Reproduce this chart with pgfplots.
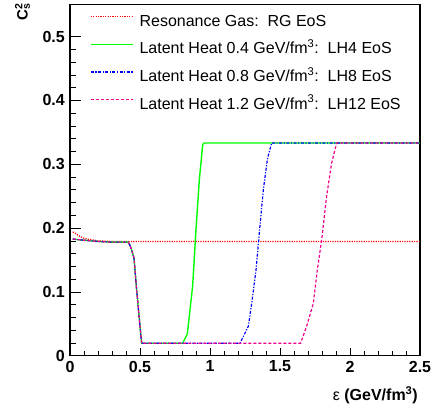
\documentclass[border=0pt]{standalone}
\usepackage{fontspec}
\setmainfont{Liberation Sans}
\usepackage{pgfplots}
\pgfplotsset{compat=1.18}
\usepackage{pgfplotstable}

\pgfplotstableread{
x y
0.02 0.194
0.05 0.190
0.07 0.187
0.10 0.184
0.143 0.182
0.20 0.180
0.30 0.179
2.50 0.179
}\rgdata

\pgfplotstableread{
x y
0.02 0.183
0.05 0.182
0.10 0.181
0.20 0.179
0.30 0.178
0.417 0.178
0.430 0.172
0.440 0.166
0.457 0.153
0.466 0.130
0.476 0.103
0.490 0.070
0.500 0.046
0.512 0.0195
0.805 0.0195
0.838 0.034
0.876 0.109
0.900 0.198
0.924 0.276
0.948 0.331
0.960 0.3333
2.50 0.3333
}\lhfour

\pgfplotstableread{
x y
0.02 0.183
0.05 0.182
0.10 0.181
0.20 0.179
0.30 0.178
0.417 0.178
0.430 0.172
0.440 0.166
0.457 0.153
0.466 0.130
0.476 0.103
0.490 0.070
0.500 0.046
0.512 0.0195
1.214 0.0195
1.274 0.046
1.298 0.082
1.329 0.135
1.352 0.192
1.381 0.260
1.410 0.308
1.440 0.3333
2.50 0.3333
}\lheight

\pgfplotstableread{
x y
0.02 0.183
0.05 0.182
0.10 0.181
0.20 0.179
0.30 0.178
0.417 0.178
0.430 0.172
0.440 0.166
0.457 0.153
0.466 0.130
0.476 0.103
0.490 0.070
0.500 0.046
0.512 0.0195
1.647 0.0195
1.690 0.046
1.738 0.082
1.767 0.135
1.798 0.182
1.833 0.250
1.869 0.302
1.905 0.3333
2.50 0.3333
}\lhtwelve

\begin{document}
\begin{tikzpicture}
\begin{axis}[
  scale only axis,
  width=350pt, height=351pt,
  xmin=0, xmax=2.5, ymin=0, ymax=0.55,
  xtick={0,0.5,1,1.5,2,2.5},
  ytick={0,0.1,0.2,0.3,0.4,0.5},
  minor x tick num=4, minor y tick num=4,
  tick align=inside,
  major tick length=11pt, minor tick length=6pt,
  tick style={black, line width=0.6pt},
  xtick style={/pgfplots/major tick length=7.5pt, /pgfplots/minor tick length=4.5pt},
  axis line style={black, line width=1.2pt},
  xtick pos=bottom, ytick pos=left,
  /pgf/number format/fixed,
  /pgf/number format/assume math mode=true,
  ticklabel style={font=\bfseries\fontsize{16}{19}\selectfont},
  xticklabel style={inner sep=0pt, anchor=north, yshift=-5pt},
  yticklabel style={inner sep=0pt, anchor=east, xshift=-5pt},
  xlabel={{\mdseries ε} (GeV/fm\textsuperscript{3})},
  xlabel style={font=\bfseries\fontsize{16}{19}\selectfont, inner sep=0pt,
    at={(axis description cs:0.9943,-0.128)}, anchor=base east},
  ylabel={\textbf{C}\rlap{\textsuperscript{\textbf{2}}}\textsubscript{\textbf{s}}},
  ylabel style={font=\fontsize{15}{18}\selectfont, inner sep=0pt,
    at={(axis description cs:-0.114,1.005)}, anchor=south east},
  legend cell align=left,
  legend image code/.code={\draw[#1] (0pt,5.5pt) -- (42pt,5.5pt);},
  legend style={draw=none, fill=none, inner sep=0pt,
    at={(axis description cs:0.0571,0.974)}, anchor=north west,
    font=\fontsize{16}{19}\selectfont,
    row sep=11.7pt,
    nodes={inner sep=0pt, text height=12pt, text depth=4pt},
    /tikz/every odd column/.append style={column sep=6pt}},
]
\addplot[color=red, line width=1.2pt, dash pattern=on 1.2pt off 1.2pt] table {\rgdata};
\addlegendentry{Resonance Gas:\ \ RG EoS}
\addplot[color=green, line width=1.4pt] table {\lhfour};
\addlegendentry{Latent Heat 0.4 GeV/fm\textsuperscript{3}:\ \ LH4 EoS}
\addplot[color=blue, line width=1.2pt, dash pattern=on 3pt off 1.5pt on 1.2pt off 1.5pt] table {\lheight};
\addlegendentry{Latent Heat 0.8 GeV/fm\textsuperscript{3}:\ \ LH8 EoS}
\addplot[color=magenta, line width=1.2pt, dash pattern=on 3pt off 2pt] table {\lhtwelve};
\addlegendentry{Latent Heat 1.2 GeV/fm\textsuperscript{3}:\ \ LH12 EoS}
\end{axis}
\pgfresetboundingbox
\useasboundingbox (-70pt,-49.3pt) rectangle (362pt,355.7pt);
\end{tikzpicture}
\end{document}
